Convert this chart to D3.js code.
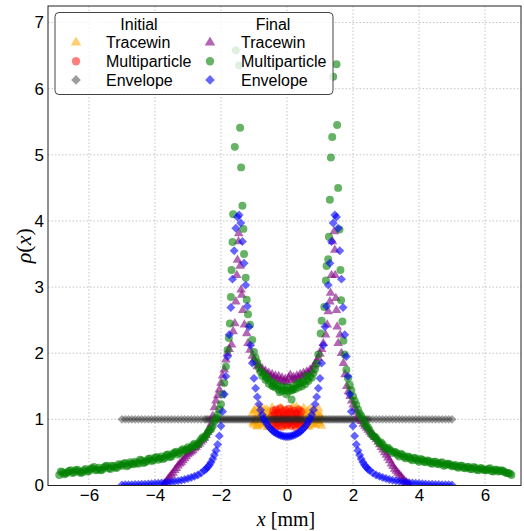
<!DOCTYPE html>
<meta charset="utf-8">
<title>rho(x) initial vs final</title>
<head>
<style>
body { margin: 0; background-color: #fff; }
svg { display: block; }
.grid line { stroke: #c4c4c4; stroke-width: 1; stroke-dasharray: 1.5,2; }
.axis text { font-family: "Liberation Sans", Arial, sans-serif; font-size: 17px; fill: #000; }
.legend text { font-family: "Liberation Sans", Arial, sans-serif; font-size: 16px; fill: #000; }
.lab { font-family: "Liberation Serif", "Times New Roman", serif; font-size: 20px; fill: #000; }
</style>
</head>
<body>
<svg width="524" height="531"></svg>
<script src="https://d3js.org/d3.v7.min.js"></script>
<script>
// tick values
var xTicks = [-6, -4, -2, 0, 2, 4, 6];
var yTicks = [0, 1, 2, 3, 4, 5, 6, 7];

// initial tracewin (orange triangles)
var initTwX = [-1.05,-1.02,-0.99,-0.96,-0.93,-0.9,-0.87,-0.84,-0.81,-0.78,
  -0.75,-0.72,-0.69,-0.66,-0.63,-0.6,-0.57,-0.54,-0.51,-0.48,
  -0.45,-0.42,-0.39,-0.36,-0.33,-0.3,-0.27,-0.24,-0.21,-0.18,
  -0.15,-0.12,-0.09,-0.06,-0.03,0,0.03,0.06,0.09,0.12,
  0.15,0.18,0.21,0.24,0.27,0.3,0.33,0.36,0.39,0.42,
  0.45,0.48,0.51,0.54,0.57,0.6,0.63,0.66,0.69,0.72,
  0.75,0.78,0.81,0.84,0.87,0.9,0.93,0.96,0.99,1.02,1.05,
  -1.035,-0.975,-0.915,-0.855,-0.795,-0.735,-0.675,-0.615,-0.555,-0.495,
  -0.435,-0.375,-0.315,-0.255,-0.195,-0.135,-0.075,-0.015,0.045,0.105,
  0.165,0.225,0.285,0.345,0.405,0.465,0.525,0.585,0.645,0.705,
  0.765,0.825,0.885,0.945,1.005];
var initTwY = [1.09,0.92,1.14,0.96,1.05,0.89,1.17,1.01,0.94,1.11,
  0.91,1.07,1.15,0.95,1.03,0.88,1.12,0.98,1.06,0.93,
  1.18,1.0,0.9,1.08,1.03,0.94,1.13,0.92,1.09,0.99,
  1.16,0.89,1.04,0.96,1.14,0.91,1.07,1.01,0.94,1.12,
  0.93,1.19,0.98,1.04,0.9,1.1,0.95,1.15,1.0,0.92,
  1.08,0.96,1.17,0.91,1.06,0.99,1.13,0.89,1.05,0.95,
  1.1,0.93,1.15,1.01,0.91,1.07,0.97,1.16,0.94,1.03,0.9,
  0.95,1.13,0.9,1.06,1.18,0.93,1.02,1.15,0.88,1.08,
  0.97,1.12,0.92,1.05,1.17,0.96,1.1,0.9,1.03,1.14,
  0.94,1.07,1.19,0.91,1.0,1.12,0.95,1.09,0.89,1.16,
  1.02,0.93,1.11,0.97,1.06];

// initial multiparticle (red circles)
var initMpX = [-0.45,-0.43,-0.41,-0.39,-0.37,-0.35,-0.33,-0.31,-0.29,-0.27,
  -0.25,-0.23,-0.21,-0.19,-0.17,-0.15,-0.13,-0.11,-0.09,-0.07,
  -0.05,-0.03,-0.01,0.01,0.03,0.05,0.07,0.09,0.11,0.13,
  0.15,0.17,0.19,0.21,0.23,0.25,0.27,0.29,0.31,0.33,
  0.35,0.37,0.39,0.41,0.43,0.45];
var initMpY = [1.05,0.92,1.13,0.98,1.08,0.88,1.15,1.0,0.95,1.1,
  0.9,1.06,1.17,0.97,1.03,0.89,1.12,0.99,1.07,0.93,
  1.14,1.01,0.91,1.09,1.04,0.94,1.16,0.96,1.11,0.9,
  1.06,1.0,0.93,1.13,0.97,1.08,0.88,1.1,1.02,0.95,
  1.15,0.92,1.05,0.98,1.12,0.94];

// envelope grid (both envelopes)
var envX = [-5.0,-4.9,-4.8,-4.7,-4.6,-4.5,-4.4,-4.3,-4.2,-4.1,-4.0,-3.9,-3.8,-3.7,-3.6,-3.5,-3.4,-3.3,-3.2,-3.1,-3.0,-2.9,-2.8,-2.7,-2.6,
  -2.5,-2.45,-2.4,-2.35,-2.3,-2.25,-2.2,-2.15,-2.1,-2.05,-2.0,-1.95,-1.9,-1.85,-1.8,-1.75,-1.7,-1.65,-1.6,-1.55,-1.5,-1.45,-1.4,-1.35,-1.3,
  -1.25,-1.2,-1.15,-1.1,-1.05,-1.0,-0.95,-0.9,-0.85,-0.8,-0.75,-0.7,-0.65,-0.6,-0.55,-0.5,-0.45,-0.4,-0.35,-0.3,-0.25,-0.2,-0.15,-0.1,-0.05,
  0,
  0.05,0.1,0.15,0.2,0.25,0.3,0.35,0.4,0.45,0.5,0.55,0.6,0.65,0.7,0.75,0.8,0.85,0.9,0.95,1.0,1.05,1.1,1.15,1.2,1.25,
  1.3,1.35,1.4,1.45,1.5,1.55,1.6,1.65,1.7,1.75,1.8,1.85,1.9,1.95,2.0,2.05,2.1,2.15,2.2,2.25,2.3,2.35,2.4,2.45,2.5,
  2.6,2.7,2.8,2.9,3.0,3.1,3.2,3.3,3.4,3.5,3.6,3.7,3.8,3.9,4.0,4.1,4.2,4.3,4.4,4.5,4.6,4.7,4.8,4.9,5.0];

// initial envelope (gray diamonds)
var initEnvY = [1,1,1,1,1,1,1,1,1,1,1,1,1,1,1,1,1,1,1,1,1,1,1,1,1,
  1,1,1,1,1,1,1,1,1,1,1,1,1,1,1,1,1,1,1,1,1,1,1,1,1,
  1,1,1,1,1,1,1,1,1,1,1,1,1,1,1,1,1,1,1,1,1,1,1,1,1,
  1,
  1,1,1,1,1,1,1,1,1,1,1,1,1,1,1,1,1,1,1,1,1,1,1,1,1,
  1,1,1,1,1,1,1,1,1,1,1,1,1,1,1,1,1,1,1,1,1,1,1,1,1,
  1,1,1,1,1,1,1,1,1,1,1,1,1,1,1,1,1,1,1,1,1,1,1,1,1];

// final envelope (blue diamonds)
var finalEnvY = [0.009,0.01,0.011,0.012,0.014,0.016,0.018,0.02,0.023,0.026,0.029,0.033,0.037,0.042,0.048,0.055,0.062,0.07,0.08,0.09,0.105,0.12,0.14,0.16,0.19,
  0.23,0.25,0.28,0.31,0.35,0.40,0.46,0.53,0.62,0.75,0.9,1.12,1.38,1.65,1.95,2.28,2.69,3.12,3.55,3.89,4.06,4.09,3.97,3.69,3.36,
  3.03,2.71,2.40,2.12,1.85,1.62,1.47,1.34,1.23,1.14,1.07,1.01,0.965,0.925,0.89,0.86,0.835,0.814,0.797,0.783,0.77,0.76,0.752,0.746,0.742,
  0.74,
  0.742,0.746,0.752,0.76,0.77,0.783,0.797,0.814,0.835,0.86,0.89,0.925,0.965,1.01,1.07,1.14,1.23,1.34,1.47,1.62,1.85,2.12,2.40,2.71,3.03,
  3.36,3.69,3.97,4.09,4.06,3.89,3.55,3.12,2.69,2.28,1.95,1.65,1.38,1.12,0.9,0.75,0.62,0.53,0.46,0.40,0.35,0.31,0.28,0.25,0.23,
  0.19,0.16,0.14,0.12,0.105,0.09,0.08,0.07,0.062,0.055,0.048,0.042,0.037,0.033,0.029,0.026,0.023,0.02,0.018,0.016,0.014,0.012,0.011,0.01,0.009];

// final tracewin (purple triangles)
var finalTwX = [-3.75,-3.65,-3.55,-3.45,-3.35,-3.25,-3.15,-3.05,-2.95,-2.85,
  -2.75,-2.65,-2.55,-2.45,-2.4,-2.35,-2.3,-2.25,-2.2,-2.15,
  -2.1,-2.05,-2.0,-1.95,-1.9,-1.85,-1.8,-1.75,-1.68,-1.63,
  -1.58,-1.55,-1.52,-1.5,-1.47,-1.46,-1.42,-1.39,-1.37,-1.34,
  -1.29,-1.22,-1.18,-1.12,-1.05,-1.0,-0.95,-0.9,-0.85,-0.8,
  -0.75,-0.7,-0.65,-0.6,-0.55,-0.5,-0.45,-0.4,-0.35,-0.3,
  -0.25,-0.2,-0.15,-0.1,-0.05,0,0.05,0.1,0.15,0.2,
  0.25,0.3,0.35,0.4,0.45,0.5,0.55,0.6,0.65,0.7,
  0.75,0.8,0.85,0.9,0.95,1.0,1.05,1.1,1.17,1.22,
  1.25,1.3,1.32,1.35,1.38,1.43,1.45,1.46,1.48,1.5,
  1.52,1.55,1.61,1.65,1.71,1.76,1.81,1.86,1.91,1.96,
  2.01,2.06,2.11,2.16,2.21,2.26,2.31,2.36,2.41,2.46,
  2.51,2.56,2.61,2.66,2.71,2.76,2.81,2.86,2.91,2.96,
  3.01,3.06,3.11,3.16,3.21,3.26,3.31,3.36,3.41,3.46,
  3.51,3.56,3.61,3.66,3.71,
  -3.7,-3.6,-3.5,-3.4,-3.3,-3.2,-3.1,-3.0,-2.9,-2.8,-2.7,-2.6,-2.5];
var finalTwY = [0.01,0.06,0.13,0.19,0.26,0.33,0.38,0.44,0.49,0.53,
  0.58,0.63,0.69,0.76,0.81,0.86,0.93,1.05,1.18,1.28,
  1.36,1.45,1.55,1.66,1.75,1.9,2.0,2.06,2.13,2.33,
  2.45,2.78,3.18,3.41,3.69,3.81,3.32,2.96,2.88,2.65,
  2.43,2.3,2.15,2.05,1.96,1.9,1.86,1.8,1.82,1.75,
  1.77,1.71,1.73,1.67,1.7,1.64,1.68,1.62,1.66,1.6,
  1.65,1.58,1.63,1.57,1.61,1.56,1.63,1.67,1.59,1.64,
  1.6,1.66,1.62,1.68,1.64,1.7,1.66,1.72,1.69,1.75,
  1.73,1.8,1.83,1.88,1.93,1.99,2.06,2.15,2.28,2.43,
  2.63,2.78,2.91,3.18,3.69,3.84,3.56,3.18,2.83,2.65,
  2.40,2.15,2.28,2.0,1.85,1.68,1.5,1.42,1.35,1.28,
  1.22,1.17,1.11,1.06,1.01,0.97,0.93,0.9,0.87,0.84,
  0.81,0.78,0.76,0.73,0.7,0.66,0.62,0.58,0.54,0.5,
  0.46,0.42,0.38,0.33,0.29,0.25,0.22,0.19,0.16,0.13,
  0.1,0.07,0.05,0.03,0.01,
  0.03,0.1,0.16,0.23,0.3,0.35,0.41,0.47,0.51,0.56,0.61,0.66,0.72];

// final multiparticle (green circles)
var finalMpX = [-6.9,-6.8,-6.7,-6.6,-6.5,-6.4,-6.3,-6.2,-6.1,-6.0,
  -5.9,-5.8,-5.7,-5.6,-5.5,-5.4,-5.3,-5.2,-5.1,-5.0,
  -4.9,-4.8,-4.7,-4.6,-4.5,-4.4,-4.3,-4.2,-4.1,-4.0,
  -3.9,-3.8,-3.7,-3.6,-3.5,-3.4,-3.3,-3.2,-3.1,-3.0,
  -2.9,-2.8,-2.7,-2.6,-2.5,-2.4,-2.3,-2.2,-2.1,-2.0,
  -1.95,-1.9,-1.85,-1.8,-1.76,-1.73,-1.7,-1.68,-1.65,-1.63,
  -1.58,-1.55,-1.45,-1.42,-1.39,-1.35,-1.32,-1.3,-1.25,-1.22,
  -1.18,-1.12,-1.05,-1.0,-0.95,-0.9,-0.85,-0.8,-0.75,-0.7,
  -0.65,-0.6,-0.55,-0.5,-0.45,-0.4,-0.35,-0.3,-0.25,-0.2,
  -0.15,-0.1,-0.05,0,0.05,0.1,0.14,0.15,0.2,0.25,
  0.3,0.35,0.4,0.45,0.5,0.55,0.6,0.65,0.7,0.75,
  0.8,0.85,0.9,0.95,1.02,1.05,1.13,1.18,1.2,1.25,
  1.27,1.3,1.33,1.37,1.4,1.5,1.52,1.55,1.59,1.62,
  1.64,1.68,1.71,1.75,1.8,1.85,1.9,1.95,2.0,2.1,
  2.2,2.3,2.4,2.5,2.6,2.7,2.8,2.9,3.0,3.1,
  3.2,3.3,3.4,3.5,3.6,3.7,3.8,3.9,4.0,4.1,
  4.2,4.3,4.4,4.5,4.6,4.7,4.8,4.9,5.0,5.1,
  5.2,5.3,5.4,5.5,5.6,5.7,5.8,5.9,6.0,6.1,
  6.2,6.3,6.4,6.5,6.6,6.7,6.8,
  -6.85,-6.75,-6.65,-6.55,-6.45,-6.35,-6.25,-6.15,-6.05,-5.95,
  -5.85,-5.75,-5.65,-5.55,-5.45,-5.35,-5.25,-5.15,-5.05,-4.95,
  -4.85,-4.75,-4.65,-4.55,-4.45,-4.35,-4.25,-4.15,-4.05,-3.95,
  -3.85,-3.75,-3.65,-3.55,-3.45,-3.35,-3.25,-3.15,-3.05,-2.95,
  -2.85,-2.75,-2.65,-2.55,-2.45,-2.35,-2.25,-2.15,-2.05,
  2.05,2.15,2.25,2.35,2.45,2.55,2.65,2.75,2.85,2.95,
  3.05,3.15,3.25,3.35,3.45,3.55,3.65,3.75,3.85,3.95,
  4.05,4.15,4.25,4.35,4.45,4.55,4.65,4.75,4.85,4.95,
  5.05,5.15,5.25,5.35,5.45,5.55,5.65,5.75,5.85,5.95,
  6.05,6.15,6.25,6.35,6.45,6.55,6.65,6.75,
  -0.62,-0.42,-0.22,-0.02,0.18,0.38,0.58];
var finalMpY = [0.16,0.20,0.18,0.22,0.19,0.23,0.21,0.20,0.25,0.22,
  0.26,0.23,0.27,0.24,0.29,0.26,0.30,0.27,0.32,0.30,
  0.34,0.31,0.33,0.36,0.33,0.38,0.35,0.40,0.37,0.42,
  0.39,0.44,0.42,0.47,0.44,0.50,0.47,0.53,0.52,0.58,
  0.57,0.63,0.62,0.70,0.72,0.80,0.85,0.97,1.07,1.23,
  1.38,1.55,1.8,2.05,2.23,2.45,2.85,3.26,3.68,4.1,
  5.12,6.58,6.35,5.41,4.81,4.23,3.88,3.5,3.14,2.81,
  2.59,2.43,2.2,2.02,1.93,1.86,1.78,1.72,1.66,1.69,
  1.6,1.62,1.54,1.58,1.51,1.55,1.48,1.52,1.45,1.5,
  1.43,1.48,1.44,1.49,1.42,1.47,1.3,1.44,1.5,1.46,
  1.53,1.48,1.55,1.5,1.57,1.53,1.6,1.58,1.65,1.63,
  1.7,1.76,1.84,1.98,2.3,2.49,2.7,3.1,3.32,3.42,
  3.76,4.32,4.96,5.27,6.18,6.37,5.45,4.5,3.87,3.26,
  2.8,2.48,2.19,1.98,1.75,1.62,1.52,1.44,1.35,1.22,
  1.09,1.0,0.9,0.84,0.75,0.72,0.64,0.62,0.55,0.55,
  0.49,0.5,0.44,0.46,0.41,0.43,0.38,0.41,0.36,0.39,
  0.35,0.37,0.33,0.36,0.32,0.35,0.31,0.33,0.29,0.31,
  0.27,0.30,0.26,0.28,0.25,0.27,0.23,0.26,0.23,0.25,
  0.22,0.24,0.21,0.23,0.20,0.19,0.16,
  0.21,0.17,0.20,0.23,0.20,0.24,0.19,0.23,0.21,0.25,
  0.28,0.24,0.23,0.27,0.30,0.25,0.29,0.27,0.31,0.33,
  0.29,0.35,0.32,0.34,0.39,0.34,0.37,0.41,0.38,0.43,
  0.41,0.40,0.46,0.43,0.48,0.51,0.49,0.55,0.54,0.56,
  0.61,0.60,0.66,0.73,0.76,0.84,0.90,1.02,1.15,
  1.28,1.15,1.05,0.94,0.88,0.79,0.74,0.68,0.65,0.58,
  0.57,0.52,0.51,0.47,0.48,0.43,0.44,0.40,0.42,0.38,
  0.40,0.36,0.38,0.34,0.36,0.33,0.34,0.30,0.33,0.31,
  0.30,0.28,0.30,0.27,0.28,0.25,0.28,0.24,0.26,0.24,
  0.23,0.26,0.21,0.24,0.22,0.22,0.19,0.18,
  1.64,1.5,1.41,1.38,1.45,1.56,1.66];

var svg = d3.select("svg"),
    margin = {top: 6, right: 3, bottom: 45.5, left: 48},
    width = +svg.attr("width") - margin.left - margin.right,
    height = +svg.attr("height") - margin.top - margin.bottom,
    g = svg.append("g").attr("transform", "translate(" + margin.left + "," + margin.top + ")");

var x = d3.scaleLinear().domain([-7.24, 7.09]).range([0, width]),
    y = d3.scaleLinear().domain([0, 7.25]).range([height, 0]);

// marker shapes, matplotlib-ish sizes
var shapes = {
  tri: d3.symbol().type(d3.symbolTriangle).size(40),
  circ: d3.symbol().type(d3.symbolCircle).size(50),
  diam: d3.symbol().type(d3.symbolSquare).size(40)
};
var rot = {tri: 0, circ: 0, diam: 45};

// draw order = plot order
var series = [
  {col: 0, label: "Tracewin", xs: initTwX, ys: initTwY, shape: "tri", color: "#ffa500", alpha: 0.55},
  {col: 0, label: "Multiparticle", xs: initMpX, ys: initMpY, shape: "circ", color: "#ff0000", alpha: 0.5},
  {col: 0, label: "Envelope", xs: envX, ys: initEnvY, shape: "diam", color: "#262626", alpha: 0.42},
  {col: 1, label: "Tracewin", xs: finalTwX, ys: finalTwY, shape: "tri", color: "#800080", alpha: 0.6},
  {col: 1, label: "Multiparticle", xs: finalMpX, ys: finalMpY, shape: "circ", color: "#008000", alpha: 0.6},
  {col: 1, label: "Envelope", xs: envX, ys: finalEnvY, shape: "diam", color: "#0000ff", alpha: 0.6}
];

// grid
var grid = g.append("g").attr("class", "grid");
grid.selectAll(".gx").data(xTicks).enter().append("line")
    .attr("x1", function(d) { return x(d); }).attr("x2", function(d) { return x(d); })
    .attr("y1", 0).attr("y2", height);
grid.selectAll(".gy").data(yTicks).enter().append("line")
    .attr("y1", function(d) { return y(d); }).attr("y2", function(d) { return y(d); })
    .attr("x1", 0).attr("x2", width);

g.append("clipPath").attr("id", "clip")
  .append("rect").attr("width", width).attr("height", height);

var pts = g.append("g").attr("clip-path", "url(#clip)");
series.forEach(function(s) {
  pts.append("g").selectAll("path")
    .data(d3.zip(s.xs, s.ys))
    .enter().append("path")
    .attr("d", shapes[s.shape])
    .attr("transform", function(d) { return "translate(" + x(d[0]) + "," + y(d[1]) + ") rotate(" + rot[s.shape] + ")"; })
    .attr("fill", s.color)
    .attr("fill-opacity", s.alpha);
});

// axes
var xAxis = d3.axisBottom(x).tickValues(xTicks).tickSize(0).tickPadding(3);
var yAxis = d3.axisLeft(y).tickValues(yTicks).tickSize(0).tickPadding(4);
var xg = g.append("g").attr("class", "axis").attr("transform", "translate(0," + height + ")").call(xAxis);
var yg = g.append("g").attr("class", "axis").call(yAxis);
xg.attr("font-size", null).attr("font-family", null).select(".domain").remove();
yg.attr("font-size", null).attr("font-family", null).select(".domain").remove();

// frame
g.append("rect").attr("width", width).attr("height", height)
  .attr("fill", "none").attr("stroke", "#222").attr("stroke-width", 1);

// axis labels
var xl = svg.append("text").attr("class", "lab").attr("x", 286).attr("y", 525.5).attr("text-anchor", "middle");
xl.append("tspan").attr("font-style", "italic").text("x");
xl.append("tspan").text(" [mm]");

var yl = svg.append("text").attr("class", "lab").style("font-size", "22px")
  .attr("transform", "translate(31," + (margin.top + height / 2) + ") rotate(-90)")
  .attr("text-anchor", "middle");
yl.append("tspan").attr("font-style", "italic").text("\u03c1");
yl.append("tspan").text("(");
yl.append("tspan").attr("font-style", "italic").text("x");
yl.append("tspan").text(")");

// legend
var legend = svg.append("g").attr("class", "legend").attr("transform", "translate(55,12.5)");
legend.append("rect").attr("width", 278).attr("height", 82).attr("rx", 4)
  .attr("fill", "#fff").attr("fill-opacity", 0.8).attr("stroke", "#444").attr("stroke-width", 1);
var colTitle = ["Initial", "Final"],
    colCenter = [84, 218], colMarker = [21, 155], colText = [51, 186];
colTitle.forEach(function(t, i) {
  legend.append("text").attr("x", colCenter[i]).attr("y", 17.5).attr("text-anchor", "middle").text(t);
});
var bigShapes = {
  tri: d3.symbol().type(d3.symbolTriangle).size(48),
  circ: d3.symbol().type(d3.symbolCircle).size(55),
  diam: d3.symbol().type(d3.symbolSquare).size(46)
};
var rowCount = [0, 0];
series.forEach(function(s) {
  var r = rowCount[s.col]++;
  var cy = 30 + r * 18.7;
  legend.append("path").attr("d", bigShapes[s.shape])
    .attr("transform", "translate(" + colMarker[s.col] + "," + cy + ") rotate(" + rot[s.shape] + ")")
    .attr("fill", s.color).attr("fill-opacity", s.col === 0 && s.shape === "diam" ? 0.45 : s.alpha);
  legend.append("text").attr("x", colText[s.col]).attr("y", cy + 5.8).text(s.label);
});
</script>
</body>
